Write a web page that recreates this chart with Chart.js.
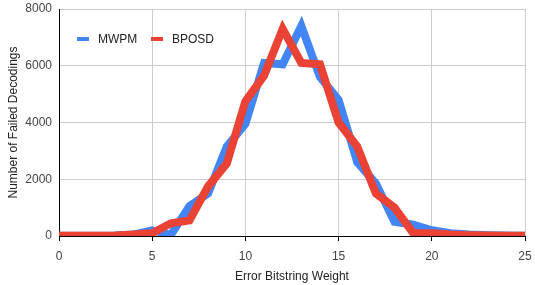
<!DOCTYPE html>
<html>
<head>
<meta charset="utf-8">
<script src="https://cdn.jsdelivr.net/npm/chart.js@4.4.1/dist/chart.umd.min.js"></script>
<style>
  body { margin: 0; background: #fff; font-family: "Liberation Sans", Arial, sans-serif; }
  #wrap { position: relative; width: 535px; height: 285px; }
  .legend { position: absolute; top: 31px; font-size: 12px; color: #222; display: flex; align-items: center; height: 16px; }
  .legend span.mark { display: inline-block; width: 12px; height: 4px; margin-right: 9px; }
</style>
</head>
<body>
<div id="wrap">
  <canvas id="decodingChart" width="535" height="285"></canvas>
  <div class="legend" style="left:77px"><span class="mark" style="background:#4285f4"></span>MWPM</div>
  <div class="legend" style="left:151px"><span class="mark" style="background:#ea4335"></span>BPOSD</div>
</div>
<script>
const weights = [0, 1, 2, 3, 4, 5, 6, 7, 8, 9, 10, 11, 12, 13, 14, 15, 16, 17, 18, 19, 20, 21, 22, 23, 24, 25];
const mwpm = [10, 10, 10, 20, 50, 200, 40, 1050, 1500, 3150, 3950, 6100, 6050, 7400, 5600, 4800, 2600, 1850, 500, 400, 200, 100, 50, 30, 20, 10];
const bposd = [10, 10, 10, 20, 50, 100, 450, 550, 1750, 2550, 4750, 5650, 7300, 6100, 6050, 4000, 3150, 1500, 1000, 100, 100, 50, 30, 20, 10, 10];
const xTicks = [0, 5, 10, 15, 20, 25];
const yTicks = [0, 2000, 4000, 6000, 8000];

function toPoints(values) {
  return weights.map((w, i) => ({ x: w, y: values[i] }));
}

// stop the axes from reserving extra room for their end labels
function fixSize(s, w, h) {
  if (w) s.width = w;
  if (h) s.height = h;
  s.paddingTop = 0;
  s.paddingBottom = 0;
  s.paddingLeft = 0;
  s.paddingRight = 0;
}

const tickFont = { family: "Liberation Sans, Arial, sans-serif", size: 12 };

new Chart(document.getElementById("decodingChart"), {
  type: "line",
  data: {
    datasets: [
      {
        label: "MWPM",
        data: toPoints(mwpm),
        borderColor: "#4285f4",
        borderWidth: 8,
        pointRadius: 0,
        tension: 0,
        clip: 0,
        order: 1
      },
      {
        label: "BPOSD",
        data: toPoints(bposd),
        borderColor: "#ea4335",
        borderWidth: 8,
        pointRadius: 0,
        tension: 0,
        clip: 0,
        order: 0
      }
    ]
  },
  options: {
    responsive: false,
    animation: false,
    devicePixelRatio: 1,
    layout: { padding: { top: 9, right: 10, left: 0, bottom: 0 } },
    plugins: { legend: { display: false }, tooltip: { enabled: false } },
    scales: {
      x: {
        type: "linear",
        min: 0,
        max: 25,
        afterBuildTicks: s => { s.ticks = xTicks.map(v => ({ value: v })); },
        afterFit: s => fixSize(s, 0, 49),
        grid: { color: "#cccccc", tickColor: "#000000", tickLength: 5 },
        border: { color: "#000000" },
        ticks: { font: tickFont, color: "#444444", padding: 8, maxRotation: 0, callback: v => String(v) },
        title: {
          display: true,
          text: "Error Bitstring Weight",
          font: tickFont,
          color: "#222222",
          padding: { top: 4, bottom: 1 }
        }
      },
      y: {
        min: 0,
        max: 8000,
        afterBuildTicks: s => { s.ticks = yTicks.map(v => ({ value: v })); },
        afterFit: s => fixSize(s, 59, 0),
        grid: { color: "#cccccc", drawTicks: false },
        border: { color: "#000000" },
        ticks: { font: tickFont, color: "#444444", padding: 7, callback: v => String(v) },
        title: {
          display: true,
          text: "Number of Failed Decodings",
          font: tickFont,
          color: "#222222",
          padding: { top: 6, bottom: 0 }
        }
      }
    }
  }
});
</script>
</body>
</html>
